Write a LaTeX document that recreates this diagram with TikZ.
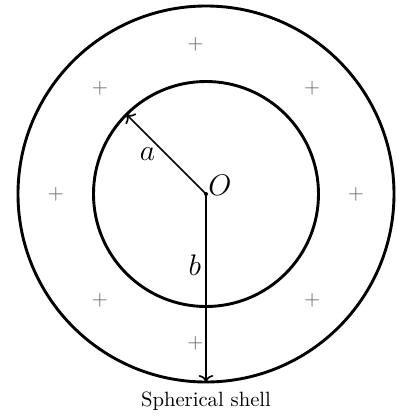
\documentclass[tikz,border=0pt]{standalone}
\usepackage{amsmath,amssymb}
\usepackage{tikz}
\usetikzlibrary{arrows.meta, positioning}

\begin{document}
\begin{tikzpicture}[x=0.484pt, y=0.484pt,
    shellline/.style={line width=1.4pt},
    radius arrow/.style={->, line width=0.8pt},
    charge/.style={text=black!60, inner sep=0pt}]
  \useasboundingbox (-206,-222) rectangle (192,194);
  % shell
  \draw[shellline] (0,0) circle (188);
  \draw[shellline] (0,0) circle (112.5);
  % points
  \coordinate (O) at (0,0);
  \coordinate (A) at (135:112.5);
  \coordinate (B) at (0,-188);
  \fill (O) circle (2);
  \node[font=\Large, anchor=south west, inner sep=1pt, yshift=-2pt] (labO) at (O) {$O$};
  % charges in the shell
  \foreach \ang [count=\i] in {0,45,94,135,180,225,266,315}
    \node[charge] (q\i) at (\ang:150) {$+$};
  % radii
  \draw[radius arrow] (O) -- (A) node[midway, left, font=\Large, inner sep=5pt] (laba) {$a$};
  \draw[radius arrow] (O) -- (B) node[pos=0.38, left, font=\Large, inner sep=2pt] (labb) {$b$};
  \node[below=1.5pt of B] (caption) {Spherical shell};
\end{tikzpicture}
\end{document}
